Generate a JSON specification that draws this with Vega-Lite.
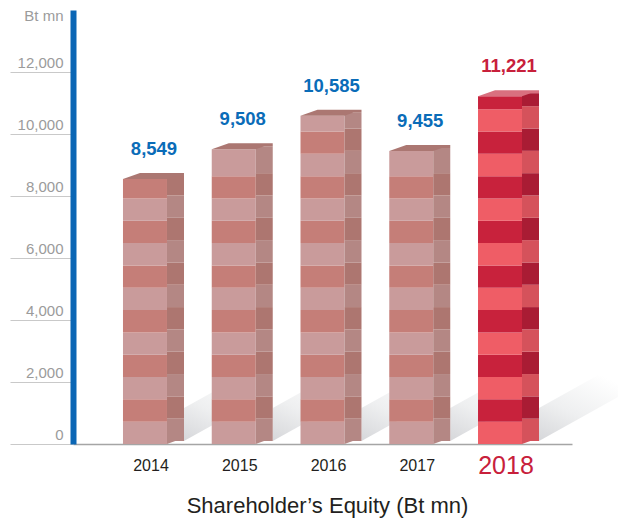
{
  "$schema": "https://vega.github.io/schema/vega-lite/v6.json",
  "width": 499,
  "height": 434,
  "autosize": {"type": "none"},
  "padding": {"left": 73, "top": 10, "right": 51, "bottom": 83},
  "background": "#ffffff",
  "config": {"view": {"stroke": null}, "font": "Liberation Sans"},
  "title": {
    "text": "Shareholder’s Equity (Bt mn)",
    "orient": "bottom",
    "anchor": "middle",
    "fontSize": 22,
    "fontWeight": "normal",
    "font": "Liberation Sans",
    "color": "#231f20",
    "offset": 18,
    "dx": 5
  },
  "datasets": {
    "bars": [
      {"year": "2014", "value": 8549},
      {"year": "2015", "value": 9508},
      {"year": "2016", "value": 10585},
      {"year": "2017", "value": 9455},
      {"year": "2018", "value": 11221}
    ],
    "bricks": [
      {"year": "2014", "brick": 1, "amount": 720}, {"year": "2014", "brick": 2, "amount": 720}, {"year": "2014", "brick": 3, "amount": 720}, {"year": "2014", "brick": 4, "amount": 720}, {"year": "2014", "brick": 5, "amount": 720}, {"year": "2014", "brick": 6, "amount": 720}, {"year": "2014", "brick": 7, "amount": 720}, {"year": "2014", "brick": 8, "amount": 720}, {"year": "2014", "brick": 9, "amount": 720}, {"year": "2014", "brick": 10, "amount": 720}, {"year": "2014", "brick": 11, "amount": 720}, {"year": "2014", "brick": 12, "amount": 629},
      {"year": "2015", "brick": 1, "amount": 720}, {"year": "2015", "brick": 2, "amount": 720}, {"year": "2015", "brick": 3, "amount": 720}, {"year": "2015", "brick": 4, "amount": 720}, {"year": "2015", "brick": 5, "amount": 720}, {"year": "2015", "brick": 6, "amount": 720}, {"year": "2015", "brick": 7, "amount": 720}, {"year": "2015", "brick": 8, "amount": 720}, {"year": "2015", "brick": 9, "amount": 720}, {"year": "2015", "brick": 10, "amount": 720}, {"year": "2015", "brick": 11, "amount": 720}, {"year": "2015", "brick": 12, "amount": 720}, {"year": "2015", "brick": 13, "amount": 868},
      {"year": "2016", "brick": 1, "amount": 720}, {"year": "2016", "brick": 2, "amount": 720}, {"year": "2016", "brick": 3, "amount": 720}, {"year": "2016", "brick": 4, "amount": 720}, {"year": "2016", "brick": 5, "amount": 720}, {"year": "2016", "brick": 6, "amount": 720}, {"year": "2016", "brick": 7, "amount": 720}, {"year": "2016", "brick": 8, "amount": 720}, {"year": "2016", "brick": 9, "amount": 720}, {"year": "2016", "brick": 10, "amount": 720}, {"year": "2016", "brick": 11, "amount": 720}, {"year": "2016", "brick": 12, "amount": 720}, {"year": "2016", "brick": 13, "amount": 720}, {"year": "2016", "brick": 14, "amount": 720}, {"year": "2016", "brick": 15, "amount": 505},
      {"year": "2017", "brick": 1, "amount": 720}, {"year": "2017", "brick": 2, "amount": 720}, {"year": "2017", "brick": 3, "amount": 720}, {"year": "2017", "brick": 4, "amount": 720}, {"year": "2017", "brick": 5, "amount": 720}, {"year": "2017", "brick": 6, "amount": 720}, {"year": "2017", "brick": 7, "amount": 720}, {"year": "2017", "brick": 8, "amount": 720}, {"year": "2017", "brick": 9, "amount": 720}, {"year": "2017", "brick": 10, "amount": 720}, {"year": "2017", "brick": 11, "amount": 720}, {"year": "2017", "brick": 12, "amount": 720}, {"year": "2017", "brick": 13, "amount": 815},
      {"year": "2018", "brick": 1, "amount": 720}, {"year": "2018", "brick": 2, "amount": 720}, {"year": "2018", "brick": 3, "amount": 720}, {"year": "2018", "brick": 4, "amount": 720}, {"year": "2018", "brick": 5, "amount": 720}, {"year": "2018", "brick": 6, "amount": 720}, {"year": "2018", "brick": 7, "amount": 720}, {"year": "2018", "brick": 8, "amount": 720}, {"year": "2018", "brick": 9, "amount": 720}, {"year": "2018", "brick": 10, "amount": 720}, {"year": "2018", "brick": 11, "amount": 720}, {"year": "2018", "brick": 12, "amount": 720}, {"year": "2018", "brick": 13, "amount": 720}, {"year": "2018", "brick": 14, "amount": 720}, {"year": "2018", "brick": 15, "amount": 720}, {"year": "2018", "brick": 16, "amount": 421}
    ]
  },
  "encoding": {
    "x": {
      "field": "year",
      "type": "nominal",
      "sort": null,
      "scale": {"type": "band", "paddingInner": 0.4, "paddingOuter": 0.511},
      "axis": {
        "orient": "bottom",
        "title": null,
        "domain": true,
        "domainColor": "#a5a5a5",
        "domainWidth": 1.5,
        "ticks": false,
        "labelAngle": 0,
        "labelPadding": 21,
        "labelBaseline": "middle",
        "labelOffset": 6,
        "labelFont": "Liberation Sans",
        "labelFontSize": {"condition": {"test": "datum.value === '2018'", "value": 25}, "value": 16},
        "labelColor": {"condition": {"test": "datum.value === '2018'", "value": "#c8203b"}, "value": "#231f20"}
      }
    }
  },
  "layer": [
    {
      "data": {"name": "bars"},
      "mark": {
        "type": "point",
        "shape": "M39,-3L39,-36L118,-80L118,-47Z",
        "size": 4,
        "filled": true,
        "opacity": 1,
        "strokeWidth": 0,
        "fill": {
          "gradient": "linear",
          "x1": 0, "y1": 1, "x2": 0.5, "y2": 0,
          "stops": [
            {"offset": 0, "color": "#d6d7da"},
            {"offset": 0.45, "color": "#eeeff0"},
            {"offset": 1, "color": "#ffffff"}
          ]
        }
      },
      "encoding": {
        "y": {"datum": 0, "type": "quantitative"}
      }
    },
    {
      "data": {"name": "bricks"},
      "transform": [
        {"calculate": "(datum.year === '2018' ? 'h' : 'n') + (datum.brick % 2)", "as": "key"}
      ],
      "mark": {"type": "bar", "width": 44},
      "encoding": {
        "y": {
          "field": "amount",
          "type": "quantitative",
          "stack": "zero",
          "scale": {"domain": [0, 14000], "nice": false},
          "axis": {
            "orient": "left",
            "values": [0, 2000, 4000, 6000, 8000, 10000, 12000],
            "format": ",d",
            "grid": false,
            "domain": true,
            "domainColor": "#0a66b5",
            "domainWidth": 6,
            "ticks": true,
            "tickSize": 63,
            "tickColor": "#c9c9c9",
            "tickWidth": 1,
            "labelPadding": -53,
            "labelAlign": "right",
            "labelBaseline": "alphabetic",
            "labelOffset": -5,
            "labelFontSize": 15,
            "labelColor": "#9b9b9b",
            "title": "Bt mn",
            "titleAngle": 0,
            "titleAlign": "right",
            "titleBaseline": "alphabetic",
            "titleX": -10,
            "titleY": 10,
            "titleFontSize": 15,
            "titleFontWeight": "normal",
            "titleColor": "#9b9b9b"
          }
        },
        "order": {"field": "brick", "type": "quantitative"},
        "color": {
          "field": "key",
          "type": "nominal",
          "legend": null,
          "scale": {
            "domain": ["n1", "n0", "h1", "h0", "sn1", "sn0", "sh1", "sh0"],
            "range": ["#c99b9b", "#c57e78", "#ef5d66", "#c8223c", "#b48784", "#ad7670", "#d5525b", "#a91c34"]
          }
        }
      }
    },
    {
      "data": {"name": "bricks"},
      "transform": [
        {"calculate": "'s' + (datum.year === '2018' ? 'h' : 'n') + (datum.brick % 2)", "as": "key"}
      ],
      "mark": {"type": "bar", "width": 17, "xOffset": 30.5, "yOffset": -3, "y2Offset": -3},
      "encoding": {
        "y": {"field": "amount", "type": "quantitative", "stack": "zero"},
        "order": {"field": "brick", "type": "quantitative"},
        "color": {"field": "key", "type": "nominal", "legend": null}
      }
    },
    {
      "data": {"name": "bars"},
      "mark": {
        "type": "point",
        "shape": "M22,0L22,-3.2L31,-3.2Z",
        "size": 4,
        "filled": true,
        "opacity": 1,
        "strokeWidth": 0
      },
      "encoding": {
        "y": {"datum": 0, "type": "quantitative"},
        "fill": {"condition": {"test": "datum.year === '2018'", "value": "#d5525b"}, "value": "#b48784"}
      }
    },
    {
      "data": {"name": "bars"},
      "mark": {
        "type": "point",
        "shape": "M-22,0L22,0L30.5,-3L39,-3L39,-6L-5,-6Z",
        "size": 4,
        "filled": true,
        "opacity": 1,
        "strokeWidth": 0
      },
      "encoding": {
        "y": {"field": "value", "type": "quantitative"},
        "fill": {"condition": {"test": "datum.year === '2018'", "value": "#d9707f"}, "value": "#ab7772"}
      }
    },
    {
      "data": {"name": "bars"},
      "mark": {
        "type": "text",
        "dx": 9,
        "dy": -30,
        "baseline": "middle",
        "align": "center",
        "font": "Liberation Sans",
        "fontSize": 18.5,
        "fontWeight": "bold"
      },
      "encoding": {
        "y": {"field": "value", "type": "quantitative"},
        "text": {"field": "value", "type": "quantitative", "format": ","},
        "color": {"condition": {"test": "datum.year === '2018'", "value": "#c8203b"}, "value": "#0a6cb8"}
      }
    }
  ]
}
